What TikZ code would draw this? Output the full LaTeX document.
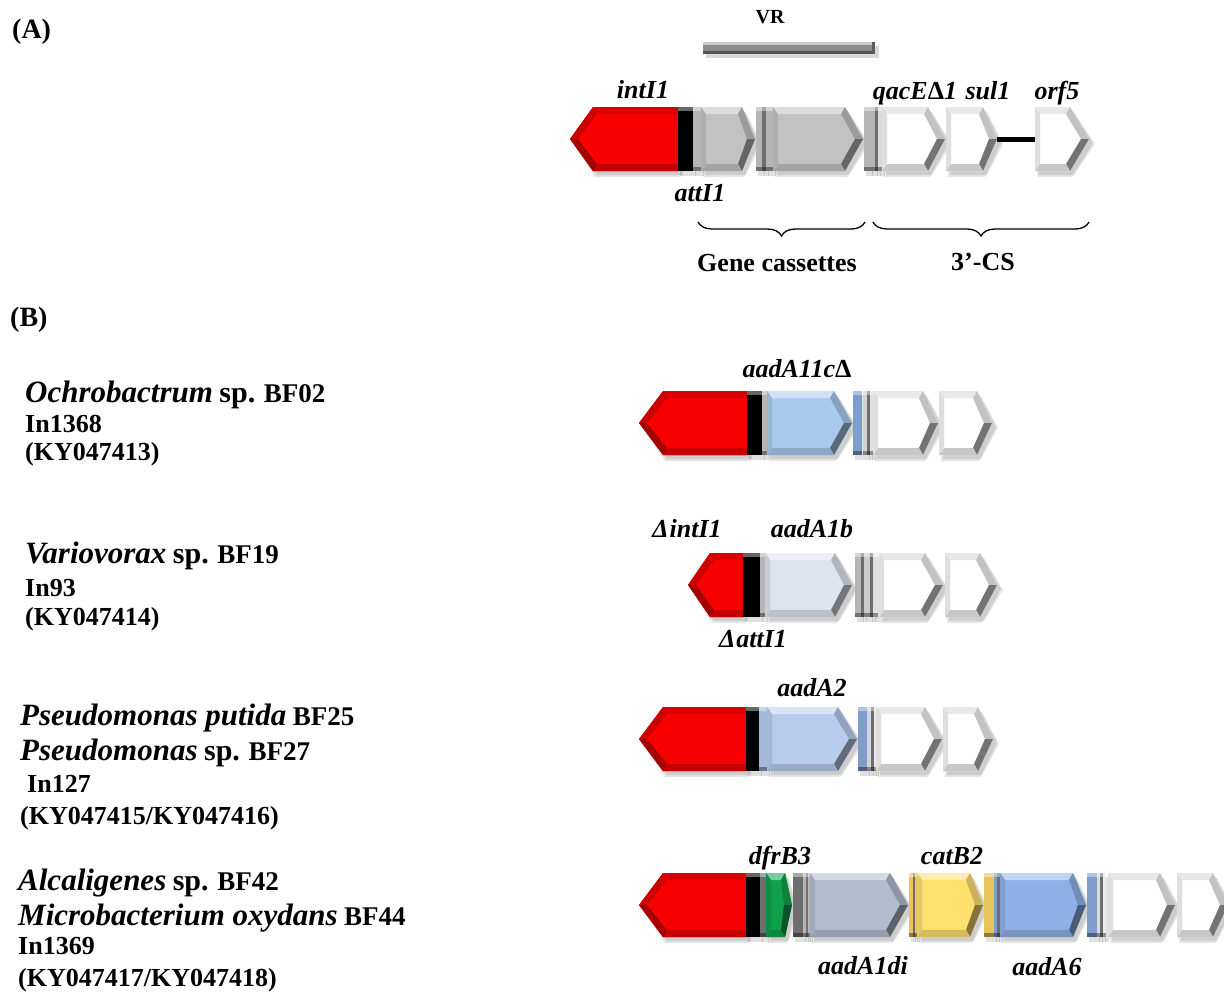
\documentclass[tikz,border=0pt]{standalone}
\usepackage{fontspec}
\setmainfont{Liberation Serif}
\usetikzlibrary{decorations.pathreplacing}
\definecolor{redc}{HTML}{F80000}
\definecolor{cgray}{HTML}{C2C2C2}
\definecolor{sgray}{HTML}{B5B5B5}
\definecolor{dgray}{HTML}{6E6E6E}
\definecolor{blueA}{HTML}{A9C9EE}
\definecolor{blueB}{HTML}{DDE4EE}
\definecolor{blueC}{HTML}{B8CCEC}
\definecolor{greenc}{HTML}{10A04B}
\definecolor{aadc}{HTML}{B1BCCF}
\definecolor{yellc}{HTML}{FFDF6E}
\definecolor{yells}{HTML}{E6C45A}
\definecolor{blueD}{HTML}{8FB0E6}
\definecolor{blues}{HTML}{7F9DCB}
\definecolor{vrgray}{HTML}{8C8C8C}
\newcommand\Spc[1]{{\fontsize{31}{36}\selectfont\itshape #1} }
\newcommand\Spp{{\fontsize{30}{36}\selectfont sp.} }
\newcommand\Str[1]{{\fontsize{27}{30}\selectfont #1}}
% right-pointing gene arrow: x0, body end, tip, y centre, colour
\newcommand\GArrowR[5]{%
  \fill[black,opacity=0.10] ({#1+2},{#4-29}) -- ({#2+2},{#4-29}) -- ({#3+4},{#4+4}) -- ({#2+2},{#4+38}) -- ({#1+2},{#4+38}) -- cycle;
  \fill[black,opacity=0.10] ({#1+4},{#4-27}) -- ({#2+4},{#4-27}) -- ({#3+6},{#4+5}) -- ({#2+4},{#4+36}) -- ({#1+4},{#4+36}) -- cycle;
  \fill[#5] (#1,{#4-32}) -- (#2,{#4-32}) -- (#3,#4) -- (#2,{#4+32}) -- (#1,{#4+32}) -- cycle;
  \fill[#5!55!white] (#1,{#4-32}) -- (#2,{#4-32}) -- ({#2-4},{#4-25}) -- ({#1+5},{#4-25}) -- cycle;
  \fill[#5!80!black] (#2,{#4-32}) -- (#3,#4) -- ({#3-8},#4) -- ({#2-4},{#4-25}) -- cycle;
  \fill[#5!52!black] (#3,#4) -- (#2,{#4+32}) -- ({#2-4},{#4+25}) -- ({#3-8},#4) -- cycle;
  \fill[#5!84!black] (#2,{#4+32}) -- (#1,{#4+32}) -- ({#1+5},{#4+25}) -- ({#2-4},{#4+25}) -- cycle;
  \fill[#5!90!black] (#1,{#4+32}) -- (#1,{#4-32}) -- ({#1+5},{#4-25}) -- ({#1+5},{#4+25}) -- cycle;
}
% white gene arrow: x0, body end, tip, y centre
\newcommand\GArrowW[4]{%
  \fill[black,opacity=0.10] ({#1+2},{#4-29}) -- ({#2+2},{#4-29}) -- ({#3+4},{#4+4}) -- ({#2+2},{#4+38}) -- ({#1+2},{#4+38}) -- cycle;
  \fill[black,opacity=0.10] ({#1+4},{#4-27}) -- ({#2+4},{#4-27}) -- ({#3+6},{#4+5}) -- ({#2+4},{#4+36}) -- ({#1+4},{#4+36}) -- cycle;
  \fill[white] (#1,{#4-32}) -- (#2,{#4-32}) -- (#3,#4) -- (#2,{#4+32}) -- (#1,{#4+32}) -- cycle;
  \fill[black!9] (#1,{#4-32}) -- (#2,{#4-32}) -- ({#2-4},{#4-25}) -- ({#1+5},{#4-25}) -- cycle;
  \fill[black!24] (#2,{#4-32}) -- (#3,#4) -- ({#3-8},#4) -- ({#2-4},{#4-25}) -- cycle;
  \fill[black!55] (#3,#4) -- (#2,{#4+32}) -- ({#2-4},{#4+25}) -- ({#3-8},#4) -- cycle;
  \fill[black!22] (#2,{#4+32}) -- (#1,{#4+32}) -- ({#1+5},{#4+25}) -- ({#2-4},{#4+25}) -- cycle;
  \fill[black!13] (#1,{#4+32}) -- (#1,{#4-32}) -- ({#1+5},{#4-25}) -- ({#1+5},{#4+25}) -- cycle;
}
% left-pointing arrow: tip, body start, right end, y centre, colour
\newcommand\GArrowL[5]{%
  \fill[black,opacity=0.10] ({#1+3},{#4+4}) -- ({#2+2},{#4-29}) -- ({#3+3},{#4-29}) -- ({#3+3},{#4+38}) -- ({#2+2},{#4+38}) -- cycle;
  \fill[black,opacity=0.10] ({#1+5},{#4+5}) -- ({#2+4},{#4-27}) -- ({#3+5},{#4-27}) -- ({#3+5},{#4+36}) -- ({#2+4},{#4+36}) -- cycle;
  \fill[#5] (#1,#4) -- (#2,{#4-32}) -- (#3,{#4-32}) -- (#3,{#4+32}) -- (#2,{#4+32}) -- cycle;
  \fill[#5!82!black] (#1,#4) -- (#2,{#4-32}) -- ({#2+4},{#4-25}) -- ({#1+8},#4) -- cycle;
  \fill[#5!88!black] (#2,{#4-32}) -- (#3,{#4-32}) -- (#3,{#4-25}) -- ({#2+4},{#4-25}) -- cycle;
  \fill[#5!80!black] (#3,{#4+32}) -- (#2,{#4+32}) -- ({#2+4},{#4+25}) -- (#3,{#4+25}) -- cycle;
  \fill[#5!66!black] (#2,{#4+32}) -- (#1,#4) -- ({#1+8},#4) -- ({#2+4},{#4+25}) -- cycle;
}
% site bar: x0, x1, y centre, colour
\newcommand\GBar[4]{%
  \fill[black,opacity=0.12] ({#1+2},{#3-28}) rectangle ({#2+3},{#3+37});
  \fill[#4] (#1,{#3-32}) rectangle (#2,{#3+32});
  \fill[#4!60!white] (#1,{#3-32}) rectangle (#2,{#3-28});
  \fill[#4!62!black] (#1,{#3+28}) rectangle (#2,{#3+32});
}
\tikzset{
  gene/.style={font=\fontsize{26}{30}\selectfont\bfseries\itshape, inner sep=0pt, anchor=base},
  lab/.style={font=\fontsize{26}{30}\selectfont\bfseries, inner sep=0pt, anchor=base west},
  captext/.style={font=\fontsize{26}{30}\selectfont\bfseries, inner sep=0pt, anchor=base},
  brc/.style={decorate, decoration={brace, amplitude=14pt, mirror}, line width=1.3pt},
}
\begin{document}
\begin{tikzpicture}[x=1pt,y=-1pt]
\path[use as bounding box, fill=white] (0,0) rectangle (1224,991);
\clip (0,0) rectangle (1224,991);

% ---------- panel A ----------
\node[font=\fontsize{28}{32}\selectfont\bfseries, inner sep=0pt, anchor=base west] (A) at (12,38) {(A)};
\node[font=\fontsize{20}{24}\selectfont\bfseries, inner sep=0pt, anchor=base] (VR) at (770,23) {VR};
\fill[black,opacity=.15] (706,46) rectangle (879,58);
\fill[vrgray] (703,42) rectangle (875,54);
\fill[vrgray!45!white] (703,42) rectangle (875,45);
\fill[vrgray!60!black] (703,51) rectangle (875,54);
\fill[vrgray!65!black] (872,42) rectangle (875,54);

\GArrowL{570}{593}{678}{139}{redc}
\GBar{678}{693}{139}{black}
\GBar{693}{701}{139}{sgray}
\GArrowR{701}{742}{755}{139}{cgray}
\GBar{756}{762}{139}{sgray}
\GBar{762}{766}{139}{dgray}
\GBar{766}{773}{139}{sgray}
\GArrowR{773}{845}{863}{139}{cgray}
\GBar{864}{870}{139}{sgray}
\GBar{870}{875}{139}{sgray}
\GBar{875}{878}{139}{dgray}
\GBar{878}{882}{139}{sgray!50!white}
\GArrowW{882}{928}{945}{139}
\GArrowW{946}{983}{997}{139}
\coordinate (sulE) at (997,139);
\coordinate (orfS) at (1035,139);
\draw[line width=5pt] (sulE) -- (orfS);
\GArrowW{1035}{1070}{1089}{139}

\node[gene] (intI1) at (643,98) {intI1};
\node[gene] (attI1) at (700,201) {attI1};
\node[gene] (qac) at (915,99) {qacE\textup{Δ}1};
\node[gene] (sul1) at (988,99) {sul1};
\node[gene] (orf5) at (1057,99) {orf5};

\coordinate (b1a) at (698,222); \coordinate (b1b) at (865,222);
\coordinate (b2a) at (873,222); \coordinate (b2b) at (1089,222);
\draw[brc] (b1a) -- (b1b);
\draw[brc] (b2a) -- (b2b);
\node[captext] (gc) at (777,271) {Gene cassettes};
\node[captext] (cs) at (983,270) {3’-CS};

% ---------- panel B ----------
\node[font=\fontsize{28}{32}\selectfont\bfseries, inner sep=0pt, anchor=base west] (B) at (10,326) {(B)};

% row 1
\node[lab] (r1a) at (25,402) {\Spc{Ochrobactrum}\Spp\Str{BF02}};
\node[lab] (r1b) at (25,432) {In1368};
\node[lab] (r1c) at (25,460) {(KY047413)};
\GArrowL{639}{663}{747}{423}{redc}
\GBar{747}{762}{423}{black}
\GBar{762}{767}{423}{sgray}
\GArrowR{767}{834}{852}{423}{blueA}
\GBar{853}{862}{423}{blues}
\GBar{863}{867}{423}{sgray!60!white}
\GBar{867}{870}{423}{dgray}
\GBar{870}{873}{423}{sgray!40!white}
\GArrowW{873}{923}{938}{423}
\GArrowW{939}{977}{992}{423}
\node[gene] (g1) at (797,377) {aadA11c\textup{Δ}};

% row 2
\node[lab] (r2a) at (25,563) {\Spc{Variovorax}\Spp\Str{BF19}};
\node[lab] (r2b) at (25,596) {In93};
\node[lab] (r2c) at (25,625) {(KY047414)};
\GArrowL{688}{710}{743}{585}{redc}
\GBar{743}{760}{585}{black}
\GBar{760}{765}{585}{sgray}
\GArrowR{765}{835}{852}{585}{blueB}
\GBar{855}{861}{585}{sgray}
\GBar{861}{864}{585}{dgray}
\GBar{864}{870}{585}{sgray!70!white}
\GBar{870}{873}{585}{dgray}
\GBar{873}{878}{585}{sgray!40!white}
\GArrowW{879}{925}{943}{585}
\GArrowW{945}{980}{997}{585}
\node[gene] (g2a) at (687,537) {Δ\kern1pt intI1};
\node[gene] (g2b) at (812,537) {aadA1b};
\node[gene] (g2c) at (753,647) {Δ\kern1pt attI1};

% row 3
\node[lab] (r3a) at (20,725) {\Spc{Pseudomonas putida}\Str{BF25}};
\node[lab] (r3b) at (20,760) {\Spc{Pseudomonas}\Spp\Str{BF27}};
\node[lab] (r3c) at (27,792) {In127};
\node[lab] (r3d) at (20,824) {(KY047415/KY047416)};
\GArrowL{639}{663}{746}{739}{redc}
\GBar{746}{759}{739}{black}
\GBar{759}{767}{739}{blues!70!white}
\GArrowR{767}{838}{857}{739}{blueC}
\GBar{858}{867}{739}{blues}
\GBar{867}{871}{739}{sgray!60!white}
\GBar{871}{874}{739}{dgray}
\GBar{874}{876}{739}{sgray!30!white}
\GArrowW{876}{925}{942}{739}
\GArrowW{943}{978}{993}{739}
\node[gene] (g3) at (812,696) {aadA2};

% row 4
\node[lab] (r4a) at (18,890) {\Spc{Alcaligenes}\Spp\Str{BF42}};
\node[lab] (r4b) at (18,925) {\Spc{Microbacterium oxydans}\Str{BF44}};
\node[lab] (r4c) at (18,954) {In1369};
\node[lab] (r4d) at (18,986) {(KY047417/KY047418)};
\GArrowL{639}{663}{746}{905}{redc}
\GBar{746}{760}{905}{black}
\GBar{760}{766}{905}{dgray}
\GArrowR{766}{785}{792}{905}{greenc}
\GBar{793}{803}{905}{dgray}
\GBar{803}{806}{905}{sgray}
\GBar{806}{808}{905}{dgray}
\GBar{808}{810}{905}{sgray}
\GArrowR{810}{890}{908}{905}{aadc}
\GBar{909}{913}{905}{yells}
\GBar{913}{915}{905}{dgray}
\GBar{915}{917}{905}{yells}
\GArrowR{917}{970}{983}{905}{yellc}
\GBar{984}{994}{905}{yells}
\GBar{994}{997}{905}{blues}
\GBar{997}{1000}{905}{dgray}
\GArrowR{1000}{1073}{1086}{905}{blueD}
\GBar{1087}{1097}{905}{blues}
\GBar{1097}{1100}{905}{sgray!50!white}
\GBar{1100}{1103}{905}{dgray}
\GBar{1103}{1106}{905}{sgray!30!white}
\GArrowW{1108}{1160}{1175}{905}
\GArrowW{1177}{1213}{1228}{905}
\node[gene] (g4a) at (780,864) {dfrB3};
\node[gene] (g4b) at (952,864) {catB2};
\node[gene] (g4c) at (863,974) {aadA1di};
\node[gene] (g4d) at (1047,975) {aadA6};
\end{tikzpicture}
\end{document}
